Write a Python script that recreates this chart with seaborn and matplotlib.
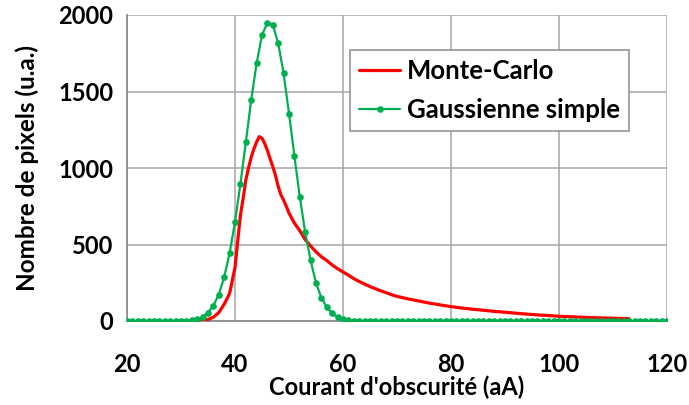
import matplotlib
matplotlib.use("Agg")
import matplotlib.pyplot as plt
import seaborn as sns
import pandas as pd
from matplotlib.ticker import MultipleLocator

# ---- data ----
gauss_x = list(range(20, 121))
gauss_core = {
    30: 0, 31: 2, 32: 5, 33: 12, 34: 25, 35: 55, 36: 101, 37: 173, 38: 287,
    39: 444, 40: 647, 41: 894, 42: 1167, 43: 1444, 44: 1684, 45: 1869,
    46: 1950, 47: 1937, 48: 1815, 49: 1618, 50: 1356, 51: 1079, 52: 811,
    53: 579, 54: 396, 55: 248, 56: 152, 57: 90, 58: 50, 59: 25, 60: 12,
    61: 5, 62: 2,
}
gauss_y = [gauss_core.get(x, 0) for x in gauss_x]

mc_x = [33, 34, 35, 36, 37, 38, 39, 40, 40.5, 41, 41.5, 42, 42.5, 43, 43.5,
        44, 44.5, 45, 45.5, 46, 46.5, 47, 47.5, 48, 48.5, 49, 49.5, 50, 51,
        52, 53, 54, 55, 56, 57, 58, 59, 60, 61, 62, 63, 64, 65, 66, 67, 68,
        69, 70, 72, 74, 76, 78, 80, 82, 84, 86, 88, 90, 92, 94, 96, 98, 100,
        102, 104, 106, 108, 110, 112, 113]
mc_y = [0, 3, 10, 25, 55, 110, 180, 350, 520, 690, 800, 920, 1000, 1070,
        1125, 1170, 1205, 1195, 1160, 1115, 1060, 1010, 950, 880, 825, 790,
        750, 705, 640, 590, 532, 490, 452, 420, 395, 366, 342, 320, 300, 277,
        258, 241, 225, 211, 197, 185, 172, 161, 145, 131, 117, 105, 94, 85,
        77, 70, 63, 57, 51, 45, 40, 36, 31, 28, 25, 22, 20, 18, 16, 15]

x_ticks = [20, 40, 60, 80, 100, 120]
y_ticks = [0, 500, 1000, 1500, 2000]

sns.set_style("white")
plt.rcParams["font.family"] = ["Lato", "DejaVu Sans"]
plt.rcParams["font.weight"] = "bold"
plt.rcParams["text.color"] = "black"
plt.rcParams["axes.labelcolor"] = "black"
plt.rcParams["xtick.color"] = "black"
plt.rcParams["ytick.color"] = "black"

fig = plt.figure(figsize=(6.89, 4.05), dpi=100)
ax = fig.add_axes([127 / 689, 1 - 321 / 405, 540 / 689, 306 / 405])

grid_c = "#a6a6a6"
ax.set_axisbelow(True)
ax.grid(True, color=grid_c, linewidth=1.1)

df_mc = pd.DataFrame({"x": mc_x, "y": mc_y})
df_g = pd.DataFrame({"x": gauss_x, "y": gauss_y})
sns.lineplot(data=df_mc, x="x", y="y", ax=ax, color="#ff0000", linewidth=2.3,
             label="Monte-Carlo", zorder=3)
sns.lineplot(data=df_g, x="x", y="y", ax=ax, color="#00b050", linewidth=1.6,
             marker="o", markersize=4.8, markeredgewidth=0,
             label="Gaussienne simple", zorder=4)

ax.set_xlim(20, 120)
ax.set_ylim(0, 2000)
ax.set_xticks(x_ticks)
ax.set_yticks(y_ticks)
ax.xaxis.set_minor_locator(MultipleLocator(5))
ax.yaxis.set_minor_locator(MultipleLocator(100))

for s in ["top", "right"]:
    ax.spines[s].set_visible(False)
for s in ["left", "bottom"]:
    ax.spines[s].set_color("#8c8c8c")
    ax.spines[s].set_linewidth(1.3)

ax.tick_params(axis="both", which="both", direction="out", color="#8c8c8c",
               width=1.1, labelsize=17, labelcolor="black")
ax.tick_params(axis="x", which="major", length=4, pad=19)
ax.tick_params(axis="x", which="minor", length=4)
ax.tick_params(axis="y", which="both", length=5, pad=5)

ax.set_xlabel("Courant d'obscurité (aA)", fontsize=17, fontweight="bold",
              labelpad=0, color="black")
ax.set_ylabel("Nombre de pixels (u.a.)", fontsize=17.5, fontweight="bold",
              labelpad=14, color="black")

leg = ax.legend(loc="upper left", bbox_to_anchor=(0.413, 0.886),
                fontsize=18.5, frameon=True, fancybox=False, framealpha=1,
                edgecolor="#8c8c8c", handlelength=1.6, handletextpad=0.25,
                borderpad=0.35, labelspacing=0.6, borderaxespad=0)
leg.get_frame().set_linewidth(1.1)
for t in leg.get_texts():
    t.set_fontweight("bold")
    t.set_color("black")

fig.savefig("out.png", dpi=100)
